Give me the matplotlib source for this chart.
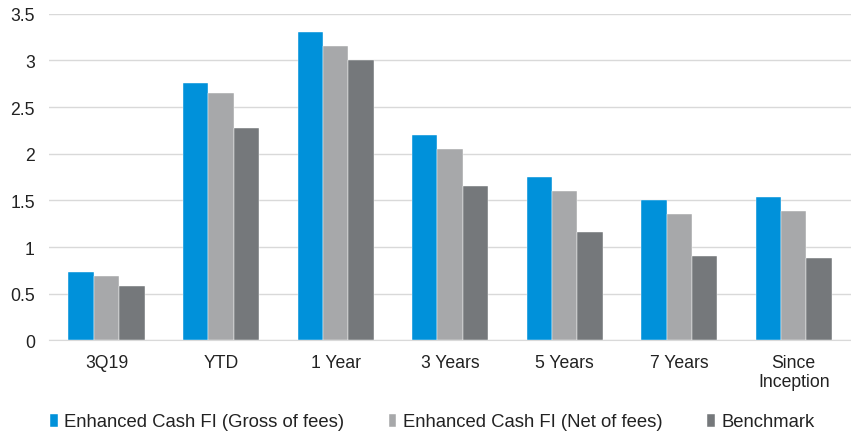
import numpy as np
import matplotlib.pyplot as plt
from matplotlib.ticker import FuncFormatter

plt.rcParams['font.family'] = ['Liberation Sans', 'DejaVu Sans']

# 数据
categories = ["3Q19", "YTD", "1 Year", "3 Years", "5 Years", "7 Years", "Since\nInception"]
gross = [0.73, 2.76, 3.31, 2.20, 1.75, 1.51, 1.54]
net = [0.69, 2.65, 3.16, 2.05, 1.60, 1.36, 1.39]
benchmark = [0.58, 2.28, 3.00, 1.65, 1.16, 0.90, 0.88]
series_names = ["Enhanced Cash FI (Gross of fees)", "Enhanced Cash FI (Net of fees)", "Benchmark"]
colors = ["#0091DA", "#A7A8AA", "#75787B"]

fig = plt.figure(figsize=(8.51, 4.35), dpi=100)
ax = fig.add_axes([0.058, 0.215, 0.942, 0.751])

x = np.arange(len(categories))
w = 0.222
for i, vals in enumerate([gross, net, benchmark]):
    ax.bar(x + (i - 1) * w, vals, w, color=colors[i], label=series_names[i],
           edgecolor="white", linewidth=0.3, zorder=3)

ax.set_xlim(-0.5, len(categories) - 0.5)
ax.set_ylim(0, 3.5)
ax.set_yticks(np.arange(0, 3.51, 0.5))
ax.yaxis.set_major_formatter(FuncFormatter(lambda v, p: "%g" % v))
ax.grid(axis="y", color="#D9D9D9", linewidth=1, zorder=0)
ax.set_xticks(x)
ax.set_xticklabels(categories, linespacing=1.1)
for s in ["top", "right", "left"]:
    ax.spines[s].set_visible(False)
ax.spines["bottom"].set_color("#D9D9D9")
ax.tick_params(axis="both", length=0, labelsize=12.7, colors="#222222")
ax.tick_params(axis="x", pad=10)
ax.tick_params(axis="y", pad=10.5)

# 图例放在底部
fig.legend(*ax.get_legend_handles_labels(), loc="center left",
           bbox_to_anchor=(50 / 851, 1 - 423 / 435), ncol=3, frameon=False,
           fontsize=13.3, handlelength=0.42, handleheight=0.7, handletextpad=0.35,
           columnspacing=2.4, borderpad=0, borderaxespad=0, labelcolor="#222222")

plt.savefig("out.png", dpi=100)
